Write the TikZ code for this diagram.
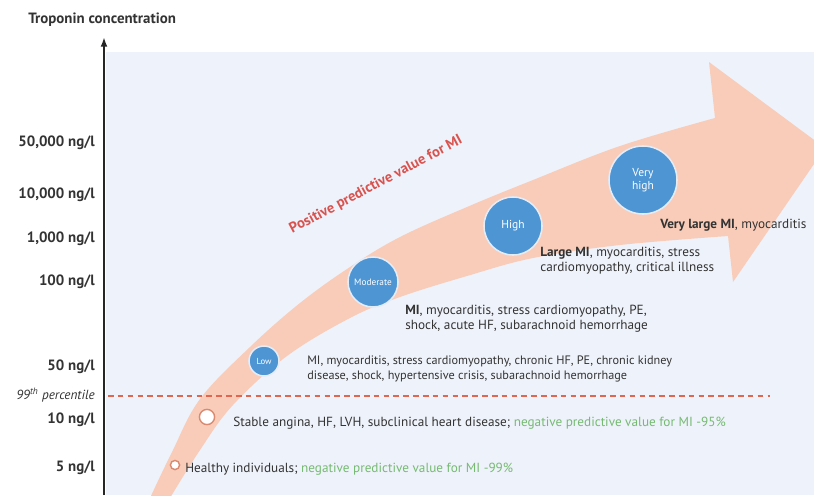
\documentclass[tikz,border=0pt]{standalone}
\usepackage{fontspec}
\setmainfont{PT Sans}
\usetikzlibrary{arrows.meta}

\definecolor{panel}{HTML}{EEF2FA}
\definecolor{bandpeach}{HTML}{F8CCB8}
\definecolor{levelblue}{HTML}{4E95D4}
\definecolor{ringblue}{HTML}{E4ECF7}
\definecolor{markedge}{HTML}{D98A70}
\definecolor{cutred}{HTML}{E2664F}
\definecolor{ppvred}{HTML}{D9534F}
\definecolor{npvgreen}{HTML}{76BA72}
\definecolor{textgray}{HTML}{333333}

\begin{document}
\begin{tikzpicture}[x=0.025cm,y=-0.025cm,
  axis/.style={-{Latex[length=2.4mm,width=1.7mm]},line width=1.3pt,draw=black!85},
  cutoff/.style={draw=cutred,line width=1pt,dash pattern=on 4pt off 3pt},
  band/.style={fill=bandpeach},
  conclabel/.style={anchor=east,inner sep=0pt,text=textgray,
    font=\bfseries\fontsize{10.6}{12}\selectfont},
  finding/.style={anchor=west,align=left,inner sep=0pt,text=textgray,
    font=\fontsize{9.4}{10.7}\selectfont},
  level/.style={circle,fill=levelblue,draw=ringblue,line width=1.1pt,
    text=white,align=center,inner sep=0pt},
  openmark/.style={circle,fill=white,draw=markedge,line width=1pt,inner sep=0pt}
]
\useasboundingbox (0,0) rectangle (814,495);

% Panel behind the curve and the concentration axis.
\fill[panel] (106,52) rectangle (814,495);
\node[inner sep=0pt,anchor=west,text=textgray,
  font=\bfseries\fontsize{10.6}{12}\selectfont] (title) at (28,20)
  {Troponin concentration};
\coordinate (axisfoot) at (104,495);
\coordinate (axishead) at (104,37);
\draw[axis] (axisfoot) -- (axishead);

\foreach \conc/\ypos in {{50,000}/143,{10,000}/195,{1,000}/239,
                         {100}/282,{50}/367,{10}/420,{5}/468}{
  \node[conclabel] (conc\ypos) at (95,\ypos) {\conc\ ng/l};
}
\node[conclabel,font=\itshape\fontsize{9.4}{10}\selectfont] (percentile)
  at (95,395) {99\textsuperscript{th} percentile};

% Rising band with its arrow head, cut by the page edge.
\begin{scope}
\clip (106,52) rectangle (814,495);
\fill[band] plot[smooth,tension=.6] coordinates {(150,498) (172,452) (200,399)
    (250,347) (300,303) (350,267) (400,237) (467,207) (533,180) (620,146) (715,118)}
  -- (709,62) -- (825,148) -- (733,282) -- (728,236)
  -- plot[smooth,tension=.6] coordinates {(728,236) (620,245) (533,258)
    (467,276) (400,297) (350,318) (287,356) (233,405) (200,450) (170,498)}
  -- cycle;
\end{scope}

\coordinate (cutstart) at (108,396);
\coordinate (cutend) at (770,396);
\draw[cutoff] (cutstart) -- (cutend);

\node[rotate=28,inner sep=0pt,text=ppvred,
  font=\bfseries\fontsize{10.4}{12}\selectfont] (ppv) at (376,185)
  {Positive predictive value for MI};

% Levels along the band.
\node[openmark,minimum size=0.23cm] (healthy) at (175,465) {};
\node[openmark,minimum size=0.38cm] (stable) at (207,417) {};
\node[level,minimum size=0.75cm,font=\fontsize{6.2}{7}\selectfont] (low)
  at (264,361) {Low};
\node[level,minimum size=1.25cm,font=\fontsize{6.6}{7}\selectfont] (moderate)
  at (373,282) {Moderate};
\node[level,minimum size=1.45cm,font=\fontsize{8.2}{9}\selectfont] (high)
  at (513,226) {High};
\node[level,minimum size=1.7cm,font=\fontsize{8.2}{9.4}\selectfont] (veryhigh)
  at (643,180) {Very\\high};

% Findings at each level.
\node[finding] (findhealthy) at (185,469)
  {Healthy individuals; {\color{npvgreen}negative predictive value for MI -99\%}};
\node[finding] (findstable) at (233,423)
  {Stable angina, HF, LVH, subclinical heart disease;
   {\color{npvgreen}negative predictive value for MI -95\%}};
\node[finding,font=\fontsize{8.7}{10.7}\selectfont] (findlow) at (307,368.5)
  {MI, myocarditis, stress cardiomyopathy, chronic HF, PE, chronic kidney\\
   disease, shock, hypertensive crisis, subarachnoid hemorrhage};
\node[finding] (findmoderate) at (405,318.5)
  {\textbf{MI}, myocarditis, stress cardiomyopathy, PE,\\
   shock, acute HF, subarachnoid hemorrhage};
\node[finding] (findhigh) at (540,260.5)
  {\textbf{Large MI}, myocarditis, stress\\cardiomyopathy, critical illness};
\node[finding] (findveryhigh) at (660,225)
  {\textbf{Very large MI}, myocarditis};
\end{tikzpicture}
\end{document}
